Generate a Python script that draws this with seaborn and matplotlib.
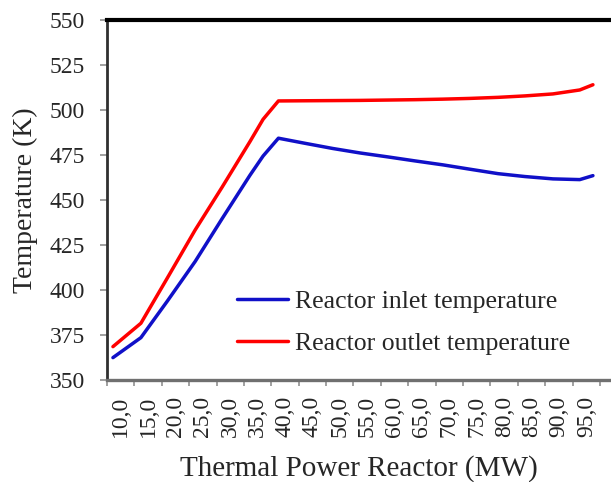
import numpy as np
import pandas as pd
import seaborn as sns
import matplotlib.pyplot as plt

sns.set_style("white")
plt.rcParams['font.family'] = ['Liberation Serif', 'DejaVu Serif']

# values
power = [8.6, 13.7, 18.5, 23.6, 28.5, 33.6, 36.0, 38.8, 43.6, 48.7,
         53.7, 58.8, 63.7, 68.8, 73.7, 78.9, 83.8, 88.9, 93.8, 96.2]
inlet = [362.7, 373.8, 394.0, 416.1, 439.8, 464.0, 474.7, 484.6, 481.8, 478.9,
         476.4, 474.2, 472.0, 469.8, 467.4, 464.9, 463.3, 462.0, 461.6, 463.8]
outlet = [368.8, 381.8, 406.8, 433.6, 457.3, 482.7, 495.1, 505.3, 505.4, 505.5,
          505.6, 505.8, 506.0, 506.3, 506.7, 507.3, 508.1, 509.2, 511.4, 514.3]
series_names = ["Reactor inlet temperature", "Reactor outlet temperature"]
tick_values = [10, 15, 20, 25, 30, 35, 40, 45, 50, 55, 60, 65, 70, 75, 80, 85, 90, 95]
y_ticks = [350, 375, 400, 425, 450, 475, 500, 525, 550]

df = pd.concat([
    pd.DataFrame({"power": power, "temp": inlet, "series": series_names[0]}),
    pd.DataFrame({"power": power, "temp": outlet, "series": series_names[1]}),
], ignore_index=True)

fig = plt.figure(figsize=(6.11, 4.82), dpi=100)
ax = fig.add_axes([0.175, 0.2106, 0.825, 0.7469])

sns.lineplot(data=df, x="power", y="temp", hue="series",
             palette=["#1010C8", "#FF0000"], linewidth=2.5, ax=ax)

ax.set_xlim(7.5, 99.5)
ax.set_ylim(350, 550)
ax.set_yticks(y_ticks)
ax.set_xticks(tick_values)
ax.set_xticklabels([f"{v:.1f}".replace(".", ",") for v in tick_values],
                   rotation=90, fontsize=17)
ax.set_xticks([v - 2.5 for v in tick_values] + [97.5], minor=True)
ax.tick_params(axis="x", which="major", length=0, pad=11)
ax.tick_params(axis="x", which="minor", length=4, width=1.2,
               color="#909090", direction="out", bottom=True)
ax.tick_params(axis="y", length=5, width=1.2, color="#909090",
               direction="out", labelsize=17, pad=11, left=True)

ax.spines["right"].set_visible(False)
ax.spines["top"].set_color("black")
ax.spines["top"].set_linewidth(3)
ax.spines["left"].set_color("#303030")
ax.spines["left"].set_linewidth(2)
ax.spines["bottom"].set_color("#707070")
ax.spines["bottom"].set_linewidth(2.4)

ax.set_xlabel("Thermal Power Reactor (MW)", fontsize=21, labelpad=13)
ax.set_ylabel("Temperature (K)", fontsize=20, labelpad=8)

handles, labels = ax.get_legend_handles_labels()
ax.legend(handles, labels, frameon=False, fontsize=18.5, loc="upper left",
          bbox_to_anchor=(0.388, 0.398), bbox_transform=fig.transFigure,
          borderpad=0, borderaxespad=0, handlelength=2.0,
          handletextpad=0.25, labelspacing=0.73)

fig.savefig("out.png", dpi=100)
